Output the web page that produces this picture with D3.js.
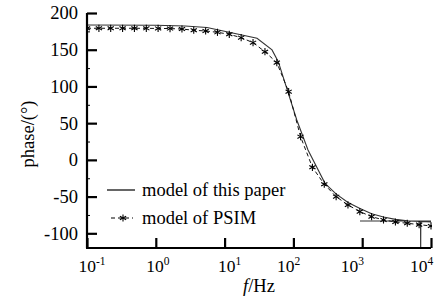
<!DOCTYPE html>
<html>
<head>
<meta charset="utf-8">
<script src="https://cdn.jsdelivr.net/npm/d3@7"></script>
<style>
  body { margin: 0; background: #fff; }
  svg text { font-family: "Liberation Serif", "Times New Roman", Times, serif; fill: #000; }
</style>
</head>
<body>
<svg id="chart" width="438" height="298"></svg>
<script>
// model of this paper (null = gap between pieces)
var freqPaper = [0.1, 1, 2.66, 5.55, 29.6, 48.9, 60.3, 112, 163, 288, 416, 622, 929, 1370, 2040, 3040, 4520, 7050, 7080, 7110, 10000, null, 929, 10000];
var phasePaper = [183.7, 183.3, 182.3, 180.3, 165.6, 149.7, 133.7, 54.3, 13.5, -31.9, -46.4, -58, -66.2, -73.5, -77.8, -81, -83, -84, -130, -84, -84.5, null, -83.2, -83.2];

// model of PSIM
var freqPsim = [0.1, 0.149, 0.221, 0.329, 0.489, 0.728, 1.08, 1.61, 2.4, 3.56, 5.3, 7.88, 11.7, 17.4, 25.9, 38.6, 57.4, 85.3, 127, 189, 281, 418, 621, 924, 1370, 2040, 3040, 4520, 6720, 10000];
var phasePsim = [179.2, 179.2, 179.2, 179.2, 179.2, 179.1, 179, 178.8, 178.2, 176.5, 175.5, 173.7, 171, 166.4, 159.6, 147.3, 132.4, 92.9, 31.6, -10.1, -33.2, -50.1, -61.4, -70.5, -77.3, -81.8, -84.6, -86.3, -88.2, -90];

var xTicks = [0.1, 1, 10, 100, 1000, 10000];
var xTickExp = ["-1", "0", "1", "2", "3", "4"];
var yTicks = [200, 150, 100, 50, 0, -50, -100];
var yMinor = [175, 125, 75, 25, -25, -75];
var legendNames = ["model of this paper", "model of PSIM"];

// label nudges (px) so the right-hand labels stay inside the picture
var xLabelShift = [0, -1, 2, -8, -13, -12.5];

var svg = d3.select("#chart");
var x = d3.scaleLog().domain([0.1, 10000]).range([87, 431]);
var y = d3.scaleLinear().domain([-120, 200]).range([248, 13]);

svg.append("clipPath").attr("id", "plotClip")
    .append("rect").attr("x", 87).attr("y", 13).attr("width", 345).attr("height", 235);

function pts(fs, ps) {
    return fs.map(function (f, i) { return f === null ? null : { f: f, p: ps[i] }; });
}

var line = d3.line()
    .defined(function (d) { return d !== null; })
    .x(function (d) { return x(d.f); })
    .y(function (d) { return y(d.p); });

var plot = svg.append("g").attr("clip-path", "url(#plotClip)");

plot.append("path")
    .attr("d", line(pts(freqPaper, phasePaper)))
    .attr("fill", "none").attr("stroke", "#333").attr("stroke-width", 1.1);

var psim = pts(freqPsim, phasePsim);
plot.append("path")
    .attr("d", line(psim))
    .attr("fill", "none").attr("stroke", "#111").attr("stroke-width", 1)
    .attr("stroke-dasharray", "4,3");

//asterisk marker
function star(g, cx, cy, r) {
    [90, 30, 150].forEach(function (a) {
        var dx = r * Math.cos(a * Math.PI / 180), dy = r * Math.sin(a * Math.PI / 180);
        g.append("line")
            .attr("x1", cx - dx).attr("y1", cy - dy)
            .attr("x2", cx + dx).attr("y2", cy + dy)
            .attr("stroke", "#000").attr("stroke-width", 1.1);
    });
}
psim.forEach(function (d) { star(plot, x(d.f), y(d.p), 3.6); });

// axes
var yAxis = svg.append("g").attr("transform", "translate(87,0)")
    .call(d3.axisRight(y).tickValues(yTicks).tickSize(10).tickFormat(""));
yAxis.select(".domain").attr("d", "M0," + y(-120) + "V" + y(200)).attr("stroke-width", 2.2);
yAxis.selectAll(".tick line").attr("stroke-width", 2.2);
svg.append("g").attr("transform", "translate(87,0)")
    .call(d3.axisRight(y).tickValues(yMinor).tickSize(3).tickFormat(""))
    .select(".domain").remove();

var xAxis = svg.append("g").attr("transform", "translate(0,248)")
    .call(d3.axisTop(x).tickValues(xTicks).tickSize(10).tickFormat(""));
xAxis.select(".domain").attr("d", "M86,0H431").attr("stroke-width", 2.2);
xAxis.selectAll(".tick line").attr("stroke-width", 2.2);

// tick labels
yTicks.forEach(function (v) {
    svg.append("text")
        .attr("x", 78).attr("y", y(v)).attr("dy", "0.35em")
        .attr("text-anchor", "end").attr("font-size", 18.5)
        .text(v);
});

xTicks.forEach(function (v, i) {
    var t = svg.append("text")
        .attr("x", x(v) - 8.5 + xLabelShift[i]).attr("y", 272)
        .attr("font-size", 17.5);
    t.append("tspan").text("10");
    t.append("tspan").attr("font-size", 11.5).attr("dy", -7).text(xTickExp[i]);
});

// axis titles
var xl = svg.append("text").attr("x", 259).attr("y", 292)
    .attr("text-anchor", "middle").attr("font-size", 18.5);
xl.append("tspan").attr("font-style", "italic").text("f");
xl.append("tspan").text("/Hz");

svg.append("text")
    .attr("transform", "translate(34,134) rotate(-90)")
    .attr("text-anchor", "middle").attr("font-size", 18.5)
    .text("phase/(°)");

// legend
svg.append("line").attr("x1", 107).attr("x2", 135).attr("y1", 190).attr("y2", 190)
    .attr("stroke", "#000").attr("stroke-width", 1.2);
svg.append("text").attr("x", 142).attr("y", 196).attr("font-size", 18.5).text(legendNames[0]);

svg.append("line").attr("x1", 111).attr("x2", 133).attr("y1", 218).attr("y2", 218)
    .attr("stroke", "#000").attr("stroke-width", 1).attr("stroke-dasharray", "4,3");
star(svg, 123, 218, 3.6);
svg.append("text").attr("x", 142).attr("y", 224).attr("font-size", 18.5).text(legendNames[1]);
</script>
</body>
</html>
